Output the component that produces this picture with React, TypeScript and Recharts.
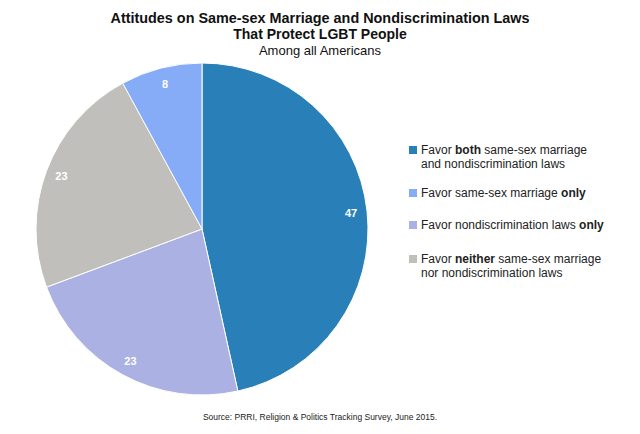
import React from "react"
import { PieChart, Pie, Cell } from "recharts"

const LABELS = [
    "Favor both same-sex marriage and nondiscrimination laws",
    "Favor same-sex marriage only",
    "Favor nondiscrimination laws only",
    "Favor neither same-sex marriage nor nondiscrimination laws",
]
const VALUES = [47, 8, 23, 23]
// pie goes clockwise from the top: both, nondiscrimination only, neither, marriage only
const PIE_ORDER = [0, 2, 3, 1]
const COLORS = ["#2980b9", "#86acf8", "#abb1e3", "#c0bfbc"]

const FONT = '"Liberation Sans", Arial, Helvetica, sans-serif'
const RADIAN = Math.PI / 180

const pieData = PIE_ORDER.map((i) => ({ name: LABELS[i], value: VALUES[i], color: COLORS[i] }))

const renderLabel = ({ cx, cy, midAngle, value }: any) => {
    const r = 150
    const x = cx + r * Math.cos(-midAngle * RADIAN)
    const y = cy + r * Math.sin(-midAngle * RADIAN)
    return (
        <text
            x={x}
            y={y}
            fill="#fff"
            textAnchor="middle"
            dominantBaseline="central"
            fontSize={11}
            fontWeight="bold"
            fontFamily={FONT}
        >
            {value}
        </text>
    )
}

const legendLines: React.ReactNode[][] = [
    [<>Favor <b>both</b> same-sex marriage</>, <>and nondiscrimination laws</>],
    [<>Favor same-sex marriage <b>only</b></>],
    [<>Favor nondiscrimination laws <b>only</b></>],
    [<>Favor <b>neither</b> same-sex marriage</>, <>nor nondiscrimination laws</>],
]
const legendTops = [143, 186, 218, 252]

export default function App() {
    return (
        <div
            style={{
                position: "absolute",
                left: 0,
                top: 0,
                width: 640,
                height: 434,
                background: "#fff",
                fontFamily: FONT,
                color: "#111",
            }}
        >
            <div style={{ position: "absolute", top: 10, left: 0, width: 640, textAlign: "center", fontWeight: "bold", fontSize: 14, lineHeight: "16px" }}>
                <span style={{ fontSize: 14.4 }}>Attitudes on Same-sex Marriage and Nondiscrimination Laws</span>
                <br />
                That Protect LGBT People
            </div>
            <div style={{ position: "absolute", top: 43, left: 0, width: 640, textAlign: "center", fontSize: 13 }}>
                Among all Americans
            </div>

            <div style={{ position: "absolute", left: 0, top: 0 }}>
                <PieChart width={640} height={434}>
                    <Pie
                        data={pieData}
                        dataKey="value"
                        nameKey="name"
                        cx={197}
                        cy={224}
                        outerRadius={166}
                        startAngle={90}
                        endAngle={-270}
                        stroke="#fff"
                        strokeWidth={1}
                        labelLine={false}
                        label={renderLabel}
                        isAnimationActive={false}
                    >
                        {pieData.map((d, idx) => (
                            <Cell key={`cell-${idx}`} fill={d.color} />
                        ))}
                    </Pie>
                </PieChart>
            </div>

            {legendLines.map((lines, idx) => (
                <div key={`legend-${idx}`} style={{ position: "absolute", left: 409, top: legendTops[idx], fontSize: 12, lineHeight: "14px", color: "#222" }}>
                    <div style={{ position: "absolute", left: 0, top: 3, width: 8, height: 8, background: COLORS[idx] }} />
                    <div style={{ marginLeft: 12, whiteSpace: "nowrap" }}>
                        {lines.map((l, j) => (
                            <div key={j}>{l}</div>
                        ))}
                    </div>
                </div>
            ))}

            <div style={{ position: "absolute", top: 412, left: 0, width: 640, textAlign: "center", fontSize: 8.5, color: "#222" }}>
                Source: PRRI, Religion &amp; Politics Tracking Survey, June 2015.
            </div>
        </div>
    )
}
